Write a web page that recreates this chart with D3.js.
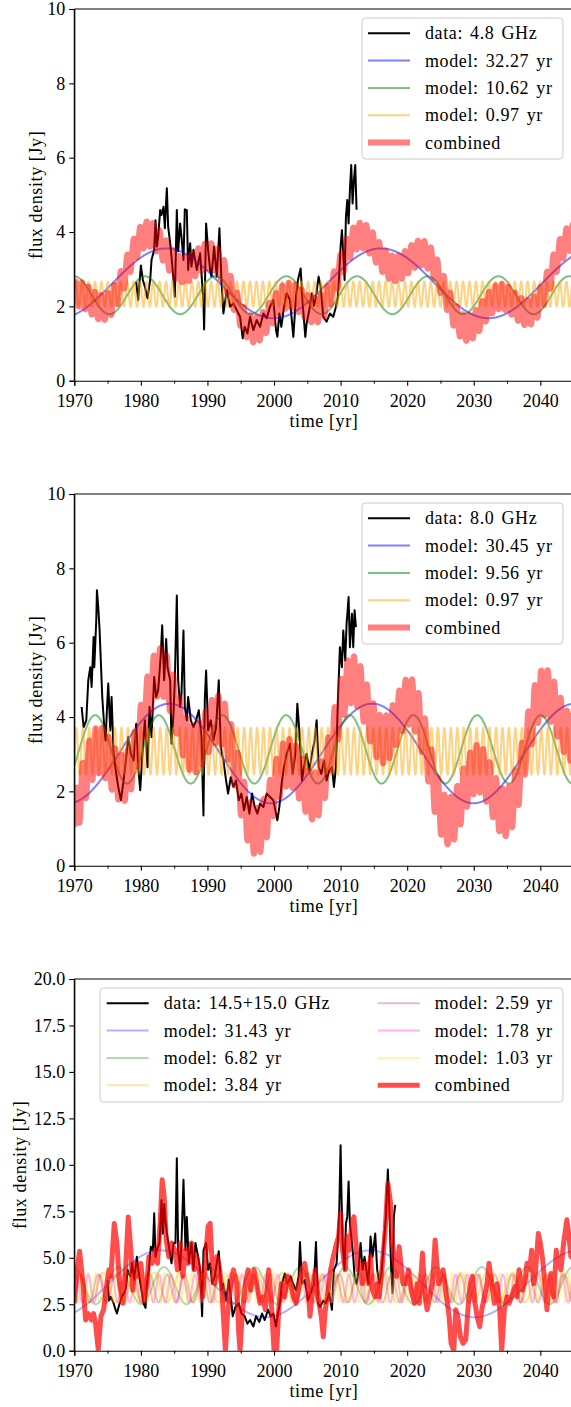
<!DOCTYPE html>
<html><head><meta charset="utf-8">
<script src="https://cdn.jsdelivr.net/npm/d3@7"></script>
<style>
html,body{margin:0;padding:0;background:#fff;}
svg{display:block;}
text{font-family:"Liberation Serif","Tinos","Times New Roman","DejaVu Serif",serif !important;fill:#000;}
</style></head><body>
<svg id="fig" width="571" height="1407"></svg>
<script>
// ---------- axis ticks ----------
const xMajorTicks = [1970, 1980, 1990, 2000, 2010, 2020, 2030, 2040];
const xMinorTicks = [1975, 1985, 1995, 2005, 2015, 2025, 2035];
const yTicksLow = [0, 2, 4, 6, 8, 10];
const yTicksHigh = [0, 2.5, 5, 7.5, 10, 12.5, 15, 17.5, 20];

// ---------- 4.8 GHz ----------
const data48 = [[1979.3,2.66],[1979.6,2.17],[1980.0,3.1],[1980.3,2.71],[1980.6,2.53],[1981.0,2.22],[1981.4,2.71],[1981.6,3.25],[1982.0,3.52],[1982.2,4.32],[1982.4,3.61],[1982.6,3.87],[1982.9,4.59],[1983.1,4.46],[1983.4,4.68],[1983.6,4.1],[1983.9,5.18],[1984.1,4.14],[1984.4,3.7],[1984.6,3.34],[1984.9,2.71],[1985.1,2.26],[1985.4,4.59],[1985.6,3.48],[1985.9,4.23],[1986.1,3.87],[1986.4,3.25],[1986.6,4.61],[1986.9,4.59],[1987.1,2.98],[1987.4,3.7],[1987.6,3.07],[1987.9,3.52],[1988.4,2.98],[1988.9,3.43],[1989.4,2.08],[1989.5,1.38],[1989.8,4.23],[1990.1,3.52],[1990.4,2.98],[1990.6,2.8],[1991.0,3.61],[1991.4,2.8],[1991.8,4.1],[1992.1,2.71],[1992.4,1.81],[1992.9,2.44],[1993.4,1.99],[1993.9,2.08],[1994.4,1.9],[1994.9,1.72],[1995.3,1.14],[1995.6,1.45],[1996.0,1.27],[1996.4,1.72],[1996.9,1.36],[1997.4,1.63],[1997.9,1.45],[1998.4,1.81],[1998.9,1.68],[1999.4,1.99],[1999.9,2.17],[2000.3,1.36],[2000.5,1.18],[2000.8,1.81],[2001.1,1.45],[2001.5,1.99],[2001.9,2.35],[2002.4,2.17],[2002.9,1.18],[2003.3,2.26],[2003.6,2.71],[2004.0,3.02],[2004.3,2.08],[2004.7,1.18],[2004.9,1.54],[2005.3,1.9],[2005.7,2.35],[2006.0,2.02],[2006.3,2.26],[2006.7,2.8],[2007.0,2.53],[2007.4,1.72],[2007.9,1.59],[2008.4,1.81],[2008.9,1.72],[2009.3,1.99],[2009.6,2.26],[2009.8,2.89],[2010.0,3.61],[2010.2,4.05],[2010.4,3.43],[2010.6,2.71],[2010.8,4.41],[2011.0,4.86],[2011.2,4.23],[2011.4,5.13],[2011.6,5.8],[2011.8,4.77],[2012.0,5.4],[2012.2,5.8],[2012.4,4.6]];
const periods48 = [32.27, 10.62, 0.97];
const means48 = [2.62, 2.30, 2.33];
const amps48 = [0.94, 0.51, 0.34];
const peaks48 = [1983.8, 1980.6, 1970.2];
const base48 = 2.65;

// ---------- 8.0 GHz ----------
const data80 = [[1971.1,4.27],[1971.4,3.73],[1971.8,3.91],[1972.1,4.99],[1972.4,5.34],[1972.6,4.81],[1972.9,6.15],[1973.0,5.34],[1973.3,6.6],[1973.4,7.41],[1973.6,6.96],[1973.8,6.33],[1974.0,5.43],[1974.2,4.54],[1974.5,3.73],[1974.7,3.37],[1974.9,4.18],[1975.1,4.9],[1975.4,3.64],[1975.6,4.54],[1975.9,3.01],[1976.3,2.47],[1976.6,2.12],[1977.0,1.76],[1977.4,2.29],[1977.8,2.92],[1978.1,3.46],[1978.5,3.01],[1978.9,2.83],[1979.3,3.82],[1979.6,2.65],[1979.9,2.03],[1980.3,3.19],[1980.6,3.91],[1981.0,2.65],[1981.3,4.27],[1981.6,3.46],[1982.0,5.08],[1982.3,4.54],[1982.6,4.72],[1983.0,5.7],[1983.2,6.47],[1983.5,4.99],[1983.8,6.1],[1984.0,5.34],[1984.4,4.99],[1984.6,3.28],[1984.9,4.09],[1985.1,4.99],[1985.4,7.27],[1985.6,4.99],[1985.9,4.27],[1986.1,4.63],[1986.4,6.33],[1986.6,4.27],[1986.9,3.91],[1987.1,4.54],[1987.5,3.91],[1987.9,3.73],[1988.3,3.91],[1988.7,4.18],[1989.1,3.46],[1989.4,1.35],[1989.6,4.45],[1989.8,5.25],[1990.1,3.64],[1990.5,3.91],[1990.9,3.37],[1991.3,3.73],[1991.7,4.99],[1992.0,3.19],[1992.4,2.83],[1992.8,2.29],[1993.1,1.94],[1993.5,2.38],[1993.9,2.12],[1994.3,2.29],[1994.7,1.76],[1995.1,1.94],[1995.5,1.49],[1995.9,1.85],[1996.3,1.4],[1996.7,1.94],[1997.1,1.58],[1997.5,1.4],[1997.9,1.67],[1998.4,1.58],[1998.9,1.94],[1999.4,1.85],[1999.9,1.76],[2000.3,1.4],[2000.5,1.22],[2000.8,1.58],[2001.2,2.29],[2001.5,2.65],[2001.9,3.01],[2002.4,3.28],[2002.8,2.47],[2003.2,3.01],[2003.5,4.36],[2003.8,3.64],[2004.2,2.29],[2004.5,2.65],[2004.9,3.01],[2005.3,2.56],[2005.7,3.01],[2006.1,3.37],[2006.4,3.91],[2006.7,2.65],[2007.1,2.47],[2007.5,2.83],[2007.9,2.29],[2008.3,2.56],[2008.7,2.65],[2009.0,2.12],[2009.3,2.65],[2009.6,4.45],[2009.9,5.88],[2010.2,5.34],[2010.4,6.33],[2010.7,5.52],[2010.9,6.51],[2011.2,7.23],[2011.4,5.88],[2011.7,6.78],[2011.9,5.88],[2012.1,6.87],[2012.3,6.42]];
const periods80 = [30.45, 9.56, 0.97];
const means80 = [3.02, 3.13, 3.08];
const amps80 = [1.34, 0.92, 0.63];
const peaks80 = [1984.3, 1982.7, 1970.3];
const base80 = 3.03;

// ---------- 14.5+15.0 GHz ----------
const data15 = [[1975.0,3.8],[1975.2,2.7],[1975.5,2.9],[1975.9,2.55],[1976.2,2.2],[1976.4,2.0],[1976.7,2.4],[1977.1,2.9],[1977.5,3.1],[1977.8,3.45],[1978.0,4.35],[1978.4,4.0],[1978.7,4.7],[1979.0,3.8],[1979.4,5.05],[1979.7,4.15],[1980.0,3.45],[1980.4,2.55],[1980.7,2.3],[1980.9,3.6],[1981.2,4.35],[1981.5,5.6],[1981.8,5.4],[1982.0,7.4],[1982.2,5.05],[1982.4,5.4],[1982.8,5.8],[1983.1,8.1],[1983.3,6.3],[1983.5,7.9],[1983.7,6.9],[1984.0,6.1],[1984.3,5.4],[1984.6,4.7],[1984.9,5.8],[1985.2,5.8],[1985.4,10.35],[1985.6,5.4],[1985.9,4.35],[1986.1,5.8],[1986.4,9.2],[1986.7,5.4],[1986.9,7.2],[1987.2,4.7],[1987.6,5.8],[1987.9,4.35],[1988.2,5.8],[1988.6,5.05],[1988.9,4.35],[1989.2,1.85],[1989.4,5.4],[1989.8,5.8],[1990.1,4.35],[1990.4,4.7],[1990.7,3.6],[1991.1,4.0],[1991.4,4.7],[1991.7,5.35],[1992.1,3.25],[1992.4,3.6],[1992.8,2.7],[1993.2,3.8],[1993.5,2.9],[1993.8,1.85],[1994.2,2.35],[1994.7,2.55],[1995.1,2.0],[1995.6,1.85],[1996.0,1.45],[1996.4,1.65],[1996.9,1.3],[1997.3,1.85],[1997.8,1.55],[1998.2,2.0],[1998.6,1.65],[1999.1,2.2],[1999.5,1.85],[1999.9,2.0],[2000.3,1.3],[2000.5,1.85],[2000.8,2.35],[2001.2,3.6],[2001.6,4.15],[2002.0,3.6],[2002.5,4.0],[2002.9,3.6],[2003.3,3.25],[2003.7,4.0],[2003.9,5.85],[2004.2,3.6],[2004.6,3.8],[2005.1,2.7],[2005.5,3.1],[2006.0,3.6],[2006.3,5.85],[2006.6,2.55],[2006.9,2.35],[2007.4,2.7],[2007.8,2.55],[2008.3,3.1],[2008.7,2.2],[2009.0,4.35],[2009.4,4.7],[2009.6,5.95],[2009.8,7.6],[2010.0,11.05],[2010.1,9.0],[2010.3,5.8],[2010.6,4.35],[2010.8,6.85],[2011.0,7.2],[2011.2,9.1],[2011.4,6.85],[2011.7,5.8],[2011.9,5.05],[2012.1,4.0],[2012.4,3.6],[2012.7,4.35],[2013.0,5.8],[2013.3,4.35],[2013.6,5.05],[2014.0,4.0],[2014.2,3.6],[2014.5,6.15],[2014.8,5.05],[2015.2,6.3],[2015.5,4.35],[2015.8,3.6],[2016.1,4.0],[2016.5,5.8],[2016.8,7.2],[2017.1,9.75],[2017.3,7.95],[2017.6,4.35],[2017.8,3.1],[2018.0,7.2],[2018.2,7.85]];
const combined15 = [[1970.0,2.55],[1970.4,4.35],[1970.8,5.35],[1971.3,3.6],[1971.7,1.65],[1972.1,2.0],[1972.6,1.65],[1972.9,2.0],[1973.2,1.45],[1973.6,0.05],[1974.0,1.85],[1974.4,2.2],[1974.9,3.6],[1975.2,4.35],[1975.5,4.0],[1976.0,6.85],[1976.4,5.8],[1976.8,3.6],[1977.3,2.55],[1977.7,4.35],[1978.1,7.2],[1978.5,5.4],[1978.8,3.25],[1979.1,4.7],[1979.6,4.0],[1980.0,4.7],[1980.5,2.7],[1980.9,3.6],[1981.2,5.05],[1981.7,4.7],[1982.1,5.4],[1982.5,4.7],[1982.9,6.85],[1983.2,9.2],[1983.5,8.3],[1983.8,5.95],[1984.2,5.05],[1984.6,5.8],[1985.1,5.4],[1985.5,4.35],[1985.9,5.8],[1986.3,4.0],[1986.7,5.4],[1987.1,4.7],[1987.6,5.8],[1988.0,4.35],[1988.4,5.05],[1988.9,4.0],[1989.3,2.9],[1989.8,5.4],[1990.1,6.7],[1990.4,6.85],[1990.7,4.7],[1991.1,3.6],[1991.4,5.05],[1991.7,4.7],[1992.1,3.6],[1992.4,1.85],[1992.7,0.0],[1993.0,1.85],[1993.5,3.6],[1993.9,4.35],[1994.4,3.6],[1994.7,0.95],[1994.9,0.0],[1995.2,1.85],[1995.7,3.6],[1996.1,4.35],[1996.5,3.25],[1997.0,4.35],[1997.4,3.6],[1997.9,2.55],[1998.3,2.9],[1998.7,2.2],[1999.2,4.35],[1999.6,2.55],[2000.0,0.0],[2000.4,0.0],[2000.7,2.2],[2001.1,3.6],[2001.6,2.9],[2002.0,4.0],[2002.5,3.6],[2002.9,2.9],[2003.3,2.55],[2003.8,3.6],[2004.2,4.35],[2004.6,4.7],[2005.1,3.6],[2005.4,1.85],[2005.7,2.9],[2006.2,4.35],[2006.6,2.9],[2007.1,1.85],[2007.4,0.75],[2007.7,2.2],[2008.0,2.9],[2008.5,4.35],[2008.9,5.05],[2009.4,5.8],[2009.7,6.15],[2010.0,7.4],[2010.3,5.4],[2010.7,4.35],[2011.0,6.15],[2011.3,5.4],[2011.7,6.85],[2012.0,7.2],[2012.3,5.8],[2012.6,4.35],[2013.0,4.7],[2013.3,3.6],[2013.7,4.7],[2014.2,3.6],[2014.5,5.05],[2014.8,3.25],[2015.2,2.9],[2015.5,3.6],[2015.8,2.9],[2016.2,4.35],[2016.7,6.5],[2017.1,9.0],[2017.5,7.95],[2017.8,5.8],[2018.1,4.7],[2018.4,4.0],[2018.8,5.6],[2019.1,4.5],[2019.4,3.6],[2019.8,3.6],[2020.2,4.35],[2020.6,3.25],[2021.1,2.55],[2021.5,3.6],[2021.8,2.55],[2022.3,5.25],[2022.7,2.9],[2023.0,2.2],[2023.4,2.9],[2023.8,3.6],[2024.2,5.95],[2024.7,3.6],[2025.1,4.0],[2025.4,4.35],[2025.9,2.9],[2026.3,1.85],[2026.6,0.4],[2027.0,0.0],[2027.3,2.2],[2027.6,1.85],[2028.0,0.75],[2028.4,0.4],[2028.8,0.6],[2029.2,2.55],[2029.5,3.6],[2029.8,4.0],[2030.2,2.55],[2030.5,1.85],[2030.9,1.3],[2031.2,2.2],[2031.6,2.9],[2032.0,3.6],[2032.3,4.7],[2032.7,3.6],[2033.1,2.55],[2033.5,3.6],[2033.9,2.2],[2034.2,0.0],[2034.6,2.2],[2035.0,2.9],[2035.3,2.55],[2035.7,2.9],[2036.2,3.45],[2036.5,2.9],[2036.8,4.35],[2037.3,3.25],[2037.7,3.8],[2038.0,4.7],[2038.4,4.35],[2038.7,5.4],[2039.0,3.6],[2039.3,4.35],[2039.7,6.3],[2040.0,5.8],[2040.3,5.05],[2040.7,3.6],[2041.0,2.2],[2041.3,3.6],[2041.6,4.15],[2042.0,2.9],[2042.4,5.4],[2042.7,4.7],[2043.1,4.35],[2043.5,5.8],[2044.0,7.05],[2044.3,6.15],[2044.6,5.05],[2045.0,5.0]];
const periods15 = [31.43, 6.82, 3.84, 2.59, 1.78, 1.03];
const means15 = [3.6, 3.5, 3.4, 3.35, 3.35, 3.4];
const amps15 = [1.8, 1.0, 0.8, 0.75, 0.75, 0.8];
const peaks15 = [1983.0, 1997.1, 1970.5, 1971.0, 1970.3, 1970.1];

// ---------- layout ----------
const FONT = "'Liberation Serif', Tinos, 'Times New Roman', 'DejaVu Serif', serif";
const svg = d3.select("#fig").attr("font-family", FONT);
svg.append("rect").attr("width", 571).attr("height", 1407).attr("fill", "#fff");

const LEFT = 74.3, RIGHT = 573.6, PH = 371.7;
const x = d3.scaleLinear().domain([1970, 2045]).range([LEFT, RIGHT]);
const grid = d3.range(1970, 2045.001, 0.01);

function sinusoid(t, mean, amp, period, peak) {
  return mean + amp * Math.cos(2 * Math.PI * (t - peak) / period);
}

function drawPanel(cfg, idx) {
  const top = cfg.top, bottom = top + PH;
  const y = d3.scaleLinear().domain(cfg.yDomain).range([bottom, top]);
  const g = svg.append("g");
  const clipId = "clip" + idx;
  g.append("clipPath").attr("id", clipId).append("rect")
    .attr("x", LEFT).attr("y", top).attr("width", RIGHT - LEFT).attr("height", PH);

  const line = d3.line().x(d => x(d[0])).y(d => y(d[1]));
  const plot = g.append("g").attr("clip-path", `url(#${clipId})`);

  // observed light curve
  plot.append("path").datum(cfg.data).attr("d", line)
    .attr("fill", "none").attr("stroke", "#000").attr("stroke-width", 2)
    .attr("stroke-linejoin", "round");

  // individual sinusoid components
  cfg.periods.forEach((p, i) => {
    const pts = grid.map(t => [t, sinusoid(t, cfg.means[i], cfg.amps[i], p, cfg.peaks[i])]);
    plot.append("path").datum(pts).attr("d", line)
      .attr("fill", "none").attr("stroke", cfg.colors[i])
      .attr("stroke-opacity", cfg.modelAlpha).attr("stroke-width", 2);
  });

  // combined model
  plot.append("path").datum(cfg.combined).attr("d", line)
    .attr("fill", "none").attr("stroke", "red")
    .attr("stroke-opacity", cfg.combAlpha).attr("stroke-width", cfg.combWidth)
    .attr("stroke-linejoin", "round");

  // spines
  g.append("line").attr("x1", LEFT).attr("x2", LEFT).attr("y1", top).attr("y2", bottom)
    .attr("stroke", "#000").attr("stroke-width", 1.1);
  g.append("line").attr("x1", LEFT).attr("x2", RIGHT).attr("y1", top).attr("y2", top)
    .attr("stroke", "#000").attr("stroke-width", 1.1);

  // x axis
  const xAxis = g.append("g").attr("transform", `translate(0,${bottom})`)
    .call(d3.axisBottom(x).tickValues(xMajorTicks).tickSize(5).tickPadding(4).tickFormat(d3.format("d")));
  g.append("g").attr("transform", `translate(0,${bottom})`)
    .call(d3.axisBottom(x).tickValues(xMinorTicks).tickSize(3).tickFormat(""))
    .call(a => a.select(".domain").remove());
  const yAxis = g.append("g").attr("transform", `translate(${LEFT},0)`)
    .call(d3.axisLeft(y).tickValues(cfg.yTicks).tickSize(5).tickPadding(4).tickFormat(cfg.yFormat));
  g.selectAll("g").attr("font-family", FONT);
  [xAxis, yAxis].forEach(a => {
    a.attr("font-size", 18);
    a.select(".domain").attr("stroke-width", 1.1);
    a.selectAll(".tick line").attr("stroke-width", 1.1);
  });
  g.selectAll(".tick line").attr("stroke", "#000");
  xAxis.selectAll(".tick text").attr("dy", "0.95em");
  yAxis.selectAll(".tick text").attr("dy", "0.33em");

  // axis titles
  g.append("text").attr("x", (LEFT + RIGHT) / 2).attr("y", bottom + 46.5)
    .attr("text-anchor", "middle").attr("font-size", 18).attr("letter-spacing", 0.6)
    .text("time [yr]");
  g.append("text")
    .attr("transform", `translate(${cfg.ylabelX},${(top + bottom) / 2}) rotate(-90)`)
    .attr("text-anchor", "middle").attr("font-size", 18).attr("letter-spacing", 0.6)
    .text("flux density [Jy]");

  // legend
  const lg = g.append("g");
  const L = cfg.legend;
  lg.append("rect").attr("x", L.x0).attr("y", top + 9).attr("width", 563 - L.x0)
    .attr("height", L.h).attr("rx", 3.5)
    .attr("fill", "#fff").attr("fill-opacity", 0.8).attr("stroke", "#ccc").attr("stroke-width", 1);
  L.items.forEach(it => {
    const cy = top + 24.3 + it.row * 27.3;
    lg.append("line").attr("x1", it.hx).attr("x2", it.hx + 42).attr("y1", cy).attr("y2", cy)
      .attr("stroke", it.color).attr("stroke-opacity", it.alpha).attr("stroke-width", it.w);
    lg.append("text").attr("x", it.hx + 57).attr("y", cy + 6).attr("font-size", 18)
      .attr("letter-spacing", 0.6).attr("word-spacing", 2).text(it.label);
  });
}

function combineSum(base, periods, means, amps, peaks) {
  return grid.map(t => [t, base + periods.reduce((s, p, i) =>
    s + sinusoid(t, means[i], amps[i], p, peaks[i]) - means[i], 0)]);
}

const colorsLow = ["blue", "green", "orange"];
const colorsHigh = ["blue", "green", "orange", "brown", "magenta", "gold"];
const fmtInt = d3.format("d"), fmt1 = d3.format(".1f");

function legendLow(label, periods) {
  const items = [{row: 0, hx: 368, color: "#000", alpha: 1, w: 2, label: label}];
  periods.forEach((p, i) => items.push({row: i + 1, hx: 368, color: colorsLow[i], alpha: 0.5, w: 2,
    label: "model: " + p.toFixed(2) + " yr"}));
  items.push({row: periods.length + 1, hx: 368, color: "red", alpha: 0.5, w: 6, label: "combined"});
  return {x0: 362, h: 141, items};
}

drawPanel({top: 9, yDomain: [0, 10], yTicks: yTicksLow, yFormat: fmtInt, ylabelX: 42,
  data: data48, periods: periods48, means: means48, amps: amps48, peaks: peaks48,
  colors: colorsLow, modelAlpha: 0.5,
  combined: combineSum(base48, periods48, means48, amps48, peaks48), combAlpha: 0.5, combWidth: 6,
  legend: legendLow("data: 4.8 GHz", periods48)}, 1);

drawPanel({top: 494, yDomain: [0, 10], yTicks: yTicksLow, yFormat: fmtInt, ylabelX: 42,
  data: data80, periods: periods80, means: means80, amps: amps80, peaks: peaks80,
  colors: colorsLow, modelAlpha: 0.5,
  combined: combineSum(base80, periods80, means80, amps80, peaks80), combAlpha: 0.5, combWidth: 6,
  legend: legendLow("data: 8.0 GHz", periods80)}, 2);

const itemsHigh = [{row: 0, hx: 106.7, color: "#000", alpha: 1, w: 2, label: "data: 14.5+15.0 GHz"}];
periods15.forEach((p, i) => {
  const k = i + 1;
  itemsHigh.push({row: k % 4, hx: k < 4 ? 106.7 : 377.7, color: colorsHigh[i], alpha: 0.3, w: 2,
    label: "model: " + p.toFixed(2) + " yr"});
});
itemsHigh.push({row: 3, hx: 377.7, color: "red", alpha: 0.7, w: 5, label: "combined"});

drawPanel({top: 979, yDomain: [0, 20], yTicks: yTicksHigh, yFormat: fmt1, ylabelX: 26,
  data: data15, periods: periods15, means: means15, amps: amps15, peaks: peaks15,
  colors: colorsHigh, modelAlpha: 0.3,
  combined: combined15, combAlpha: 0.7, combWidth: 5,
  legend: {x0: 100, h: 114, items: itemsHigh}}, 3);
</script>
</body></html>
